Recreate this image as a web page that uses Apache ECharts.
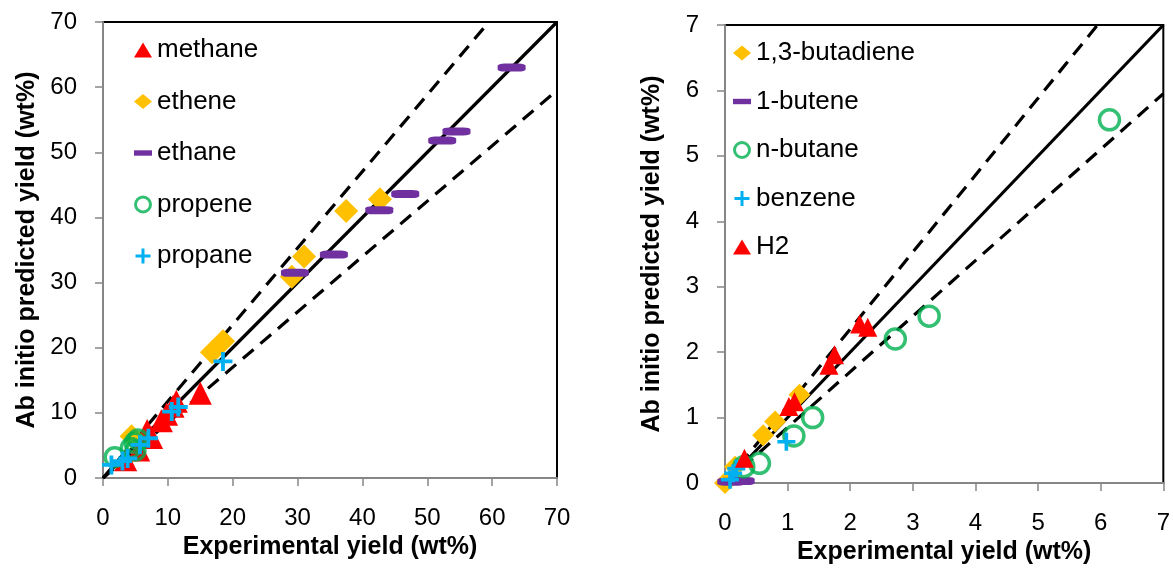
<!DOCTYPE html>
<html>
<head>
<meta charset="utf-8">
<script src="https://cdn.jsdelivr.net/npm/echarts@6/dist/echarts.min.js"></script>
<style>
  html, body { margin: 0; padding: 0; background: #fff; }
  #chart { width: 1173px; height: 574px; }
</style>
</head>
<body>
<div id="chart"></div>
<script>
// left panel: [experimental, ab initio] yields (wt%)
const methane = [[3.5, 2.8], [5.5, 4.3], [6.8, 7.3], [7.5, 6.2], [9.0, 8.8], [9.8, 9.8], [10.8, 11.0], [11.3, 11.8], [15.0, 13.0]];
const ethene = [[4.4, 6.4], [16.8, 19.3], [18.5, 21.0], [29.1, 30.9], [31.0, 34.0], [37.5, 41.0], [42.7, 42.8]];
const ethane = [[29.6, 31.5], [35.6, 34.3], [42.6, 41.1], [46.6, 43.6], [52.3, 51.8], [54.5, 53.2], [63.0, 63.0]];
const propene = [[1.8, 3.2], [4.3, 4.6], [4.9, 5.4], [5.4, 5.9], [5.0, 4.2]];
const propane = [[1.3, 2.0], [3.0, 2.6], [3.8, 3.0], [5.7, 5.1], [7.0, 6.1], [10.6, 10.2], [11.6, 10.9], [18.5, 17.9]];

// right panel
const butadiene = [[0, 0], [0.16, 0.25], [0.61, 0.73], [0.8, 0.94], [1.19, 1.35]];
const butene = [[0.1, 0.02], [0.25, 0.03]];
const nButane = [[0.3, 0.25], [0.55, 0.3], [1.1, 0.72], [1.4, 1.0], [2.72, 2.2], [3.26, 2.55], [6.14, 5.55]];
const benzene = [[0.08, 0.05], [0.13, 0.15], [0.18, 0.22], [0.98, 0.63]];
const h2 = [[0.31, 0.38], [1.02, 1.17], [1.11, 1.24], [1.66, 1.8], [1.75, 1.96], [2.15, 2.43], [2.28, 2.38]];

// parity line and +/-15% band endpoints
const parityLeft = [[0, 0], [70, 70]];
const upperLeft = [[0, 0], [59.5, 70]];
const lowerLeft = [[0, 0], [70, 59.5]];
const parityRight = [[0, 0], [7, 7]];
const upperRight = [[0, 0], [5.95, 7]];
const lowerRight = [[0, 0], [7, 5.95]];

const FONT = 'Liberation Sans, Arial, sans-serif';
const GRAY = '#868686';
const RED = '#FF0000', YELLOW = '#FFC000', PURPLE = '#7030A0', GREEN = '#00B050', BLUE = '#00B0F0';
const PLUS = 'path://M4,0H6V10H4Z M0,4H10V6H0Z';
const DASH = 'path://M0,0H20V6H0Z';

function axis(gridIndex, max, interval, name, nameGap, isY) {
  return {
    type: 'value', gridIndex, min: 0, max, interval,
    name, nameLocation: 'middle', nameGap,
    nameTextStyle: { fontSize: 25, fontWeight: 'bold', color: '#000', fontFamily: FONT },
    axisLine: { show: true, onZero: false, lineStyle: { color: GRAY, width: 2 } },
    axisTick: { show: true, length: 8, lineStyle: { color: GRAY, width: 1.5 } },
    axisLabel: { fontSize: 24, color: '#000', fontFamily: FONT, margin: isY ? 26 : 28 },
    splitLine: { show: false }
  };
}

function refLine(idx, data, dashed) {
  return {
    type: 'line', xAxisIndex: idx, yAxisIndex: idx, data, symbol: 'none', silent: true, z: 1,
    lineStyle: { color: '#000', width: 3.2, type: dashed ? [14, 9] : 'solid' }
  };
}

function pts(idx, name, data, symbol, size, color, hollow) {
  return {
    type: 'scatter', name, xAxisIndex: idx, yAxisIndex: idx, data, symbol, symbolSize: size, z: 3,
    itemStyle: hollow ? { color: 'transparent', borderColor: color, borderWidth: 3.5 } : { color, opacity: 1 }
  };
}

function legend(left, top, gap, items) {
  return {
    left, top, orient: 'vertical', padding: 0, itemWidth: 18, itemHeight: 15, itemGap: gap,
    selectedMode: false,
    textStyle: { fontSize: 26, color: '#000', fontFamily: FONT },
    data: items
  };
}

const chart = echarts.init(document.getElementById('chart'));
chart.setOption({
  animation: false,
  backgroundColor: '#fff',
  grid: [
    { left: 103, top: 22, width: 454, height: 456, show: true, borderColor: '#000', borderWidth: 2 },
    { left: 725, top: 25, width: 440, height: 458, show: true, borderColor: '#000', borderWidth: 2 }
  ],
  xAxis: [
    axis(0, 70, 10, 'Experimental yield (wt%)', 57, false),
    axis(1, 7, 1, 'Experimental yield (wt%)', 57, false)
  ],
  yAxis: [
    axis(0, 70, 10, 'Ab initio predicted yield (wt%)', 63, true),
    axis(1, 7, 1, 'Ab initio predicted yield (wt%)', 60, true)
  ],
  legend: [
    legend(134, 37, 25.5, [
      { name: 'methane', icon: 'triangle' },
      { name: 'ethene', icon: 'diamond' },
      { name: 'ethane', icon: DASH },
      { name: 'propene', icon: 'circle', itemStyle: { color: 'transparent', borderColor: GREEN, borderWidth: 3 } },
      { name: 'propane', icon: PLUS }
    ]),
    legend(733, 40, 22.5, [
      { name: '1,3-butadiene', icon: 'diamond' },
      { name: '1-butene', icon: DASH },
      { name: 'n-butane', icon: 'circle', itemStyle: { color: 'transparent', borderColor: GREEN, borderWidth: 3 } },
      { name: 'benzene', icon: PLUS },
      { name: 'H2', icon: 'triangle' }
    ])
  ],
  series: [
    refLine(0, parityLeft, false),
    refLine(0, upperLeft, true),
    refLine(0, lowerLeft, true),
    pts(0, 'methane', methane, 'triangle', 23, RED),
    pts(0, 'ethene', ethene, 'diamond', 24, YELLOW),
    pts(0, 'ethane', ethane, 'roundRect', [28, 8], PURPLE),
    pts(0, 'propene', propene, 'circle', 19, GREEN, true),
    pts(0, 'propane', propane, PLUS, 19, BLUE),

    refLine(1, parityRight, false),
    refLine(1, upperRight, true),
    refLine(1, lowerRight, true),
    pts(1, '1,3-butadiene', butadiene, 'diamond', 22, YELLOW),
    pts(1, '1-butene', butene, 'roundRect', [28, 8], PURPLE),
    pts(1, 'n-butane', nButane, 'circle', 20, GREEN, true),
    pts(1, 'benzene', benzene, PLUS, 18, BLUE),
    pts(1, 'H2', h2, 'triangle', 19, RED)
  ]
});
</script>
</body>
</html>
